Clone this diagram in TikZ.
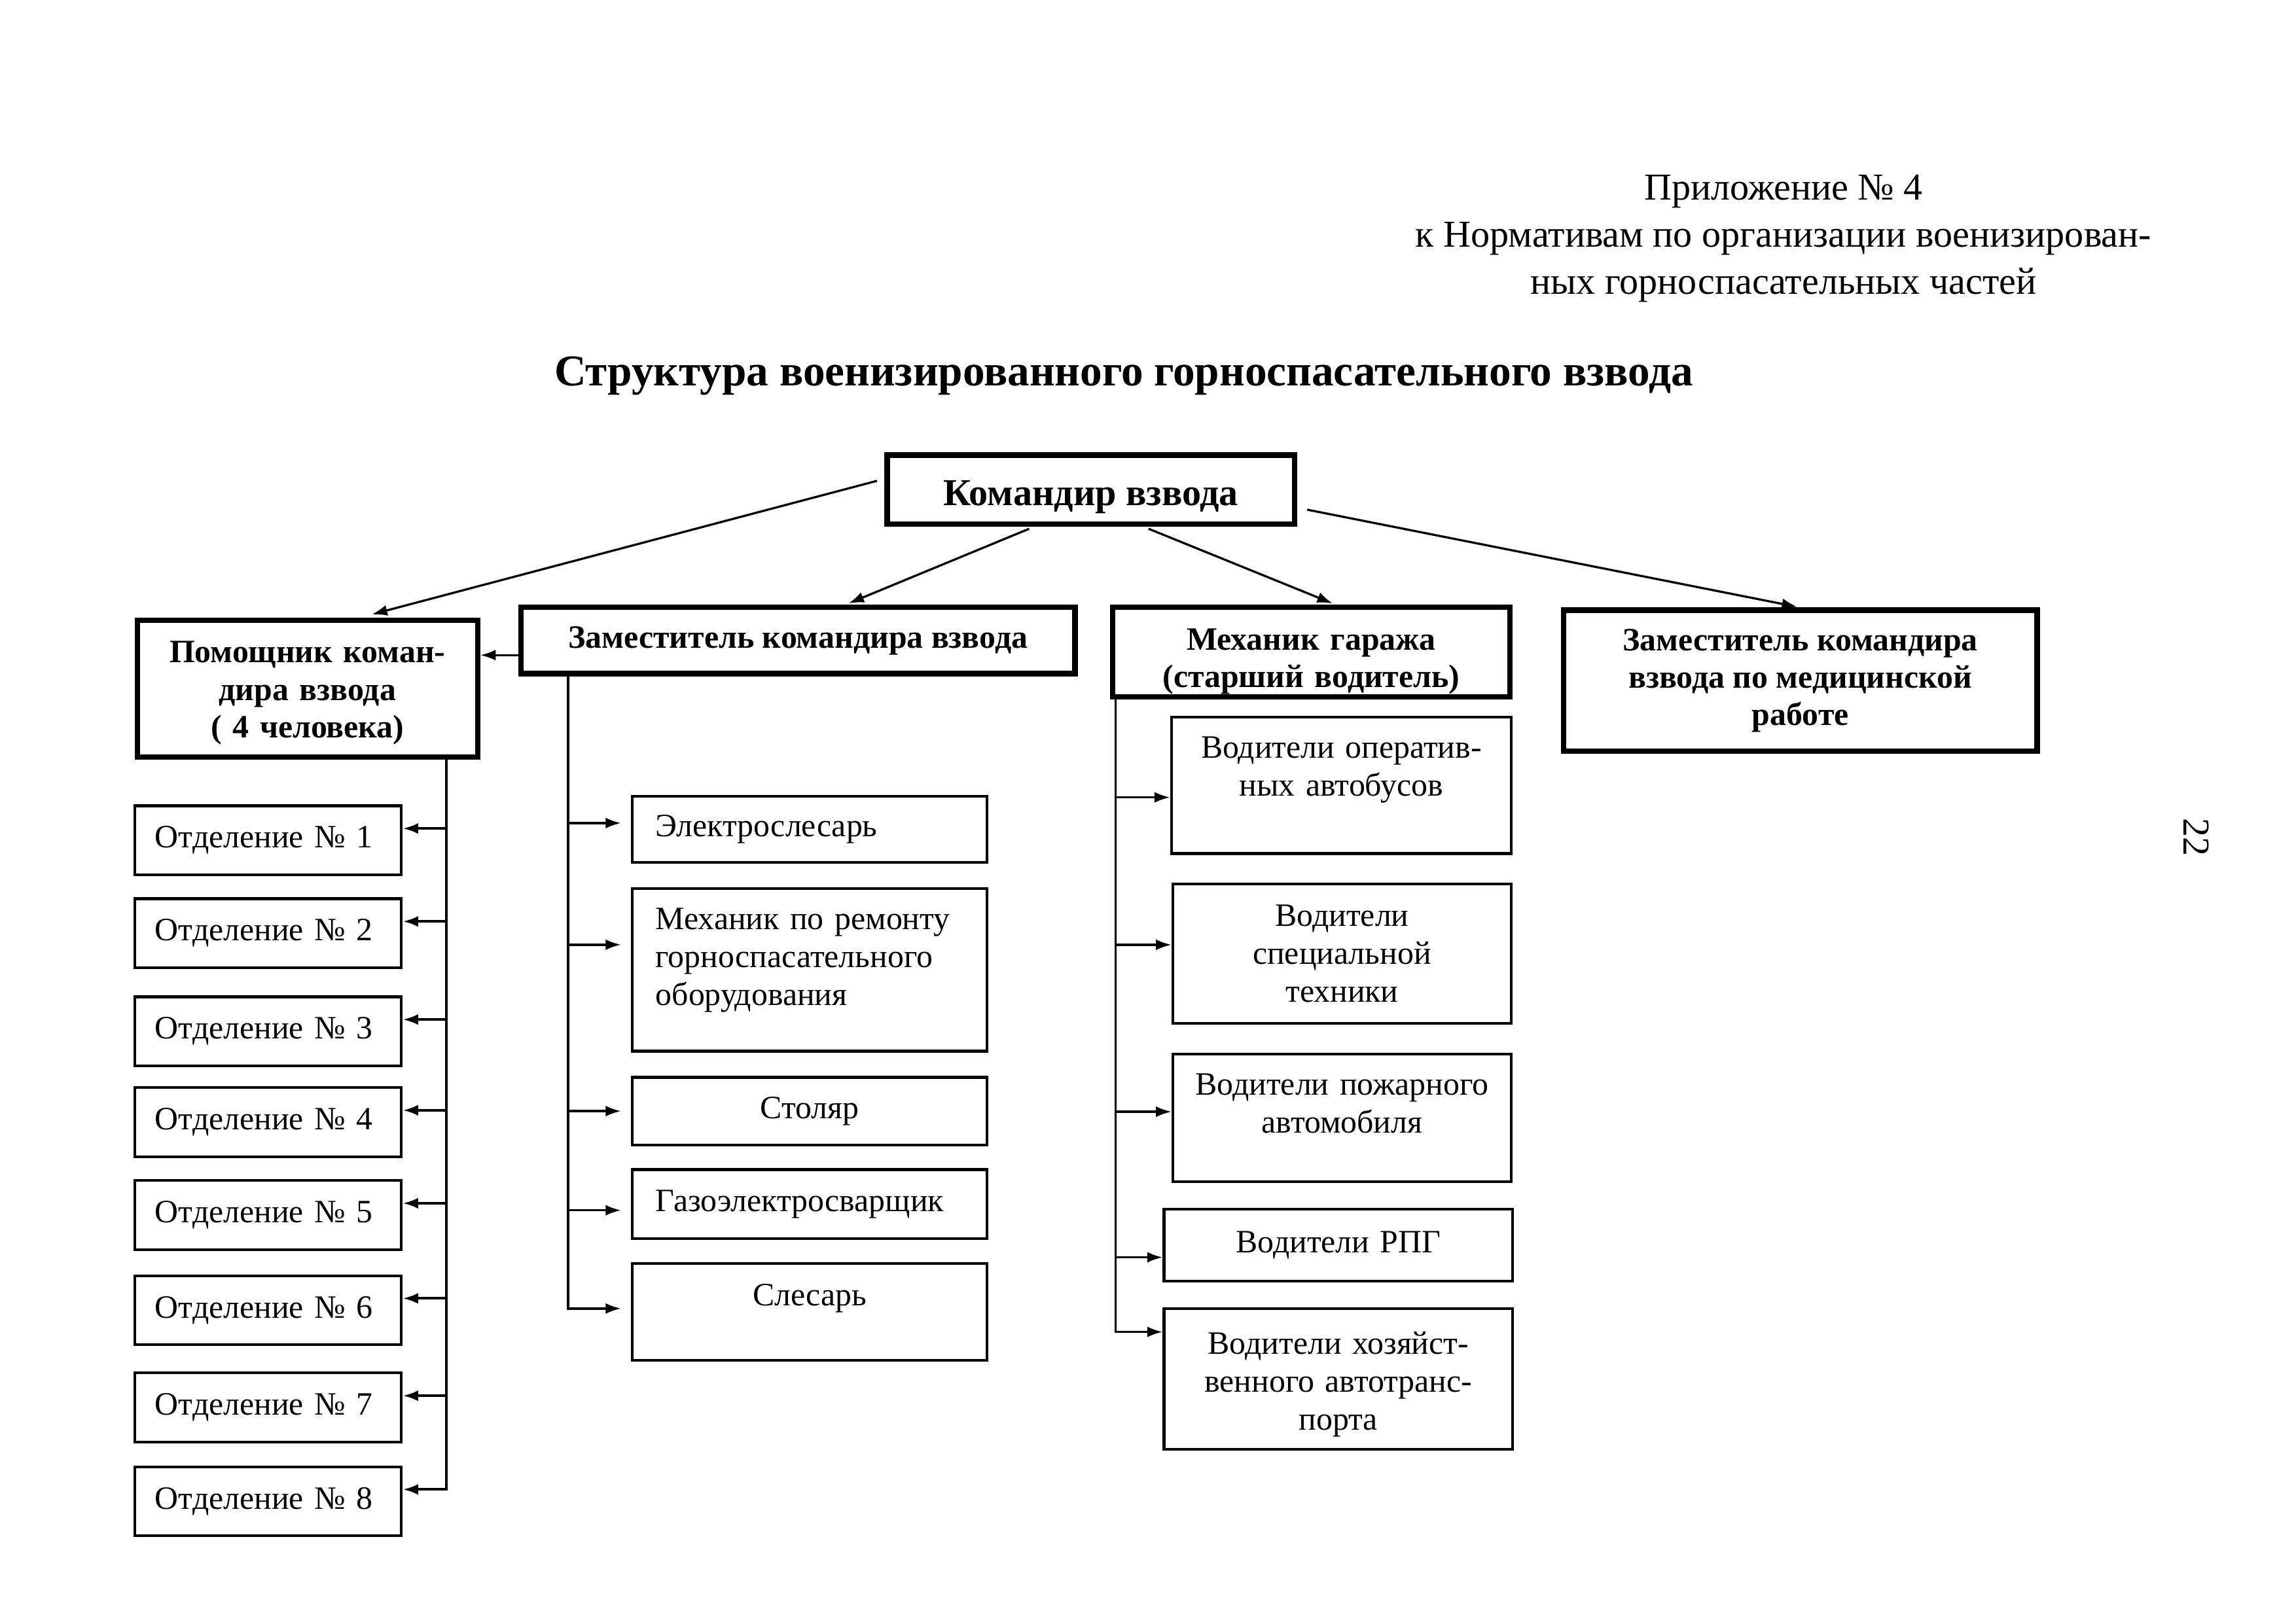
\documentclass[tikz,border=0pt]{standalone}
\usepackage{fontspec}
\setmainfont{Liberation Serif}
\usetikzlibrary{arrows.meta}

\begin{document}
\begin{tikzpicture}[x=0.18941mm, y=-0.18941mm,
  headbox/.style={draw, line width=2pt, align=center, inner sep=0pt, font=\bfseries\fontsize{12}{13.8}\selectfont},
  workbox/.style={draw, line width=1pt, inner xsep=3mm, inner ysep=0pt, font=\fontsize{12}{14}\selectfont},
  drvbox/.style={draw, line width=1pt, inner xsep=1.5mm, inner ysep=0pt, align=center, font=\fontsize{12}{14}\selectfont},
  squadbox/.style={draw, line width=1pt, inner xsep=2.65mm, inner ysep=0pt, text width=29.2mm, align=left, minimum height=8.93mm, font=\fontsize{12}{14}\selectfont},
  link/.style={-{Latex[length=2mm,width=1.4mm]}, line width=0.8pt}]
  %Page frame
  \useasboundingbox (0,0) rectangle (1568,1109);

  %Header and title
  \node[font=\fontsize{14}{17.3}\selectfont, align=center] (hdr) at (1218,163) {Приложение № 4\\к Нормативам по организации военизирован-\\ных горноспасательных частей};
  \node[font=\bfseries\fontsize{16.2}{19}\selectfont] (title) at (767.5,257) {Структура военизированного горноспасательного взвода};
  \node[font=\fontsize{14}{17}\selectfont, rotate=-90] (pnum) at (1500,572) {22};

  %Command level
  \node[headbox, font=\bfseries\fontsize{14}{16}\selectfont, minimum width=52.7mm, text height=6.53mm, text depth=2.43mm] (kom) at (745,334.5) {Командир взвода};
  \node[headbox, text width=44mm, text height=5.47mm, text depth=12.2mm] (pom) at (210,470.5) {Помощник коман-\\дира взвода\\( 4 человека)};
  \node[headbox, minimum width=71.65mm, minimum height=8.58mm] (zam) at (545,437.5) {Заместитель командира взвода};
  \node[headbox, text width=51.39mm, text height=5.5mm, text depth=6.1mm] (mech) at (895.5,445.5) {Механик гаража\\(старший водитель)};
  \node[headbox, minimum width=61.24mm, minimum height=18.24mm] (med) at (1229.5,465) {Заместитель командира\\взвода по медицинской\\работе};

  %Squads
  \node[squadbox] (o1) at (183,574) {Отделение № 1};
  \node[squadbox] (o2) at (183,637.5) {Отделение № 2};
  \node[squadbox] (o3) at (183,704.5) {Отделение № 3};
  \node[squadbox] (o4) at (183,766.5) {Отделение № 4};
  \node[squadbox] (o5) at (183,830) {Отделение № 5};
  \node[squadbox] (o6) at (183,895) {Отделение № 6};
  \node[squadbox] (o7) at (183,961.5) {Отделение № 7};
  \node[squadbox] (o8) at (183,1025.5) {Отделение № 8};

  %Workshop staff
  \node[workbox, text width=39.87mm, align=left, minimum height=8.55mm] (e1) at (553,566.5) {Электрослесарь};
  \node[workbox, text width=39.87mm, align=left, text height=5.3mm, text depth=15.75mm] (e2) at (553,662.5) {Механик по ремонту\\горноспасательного\\оборудования};
  \node[workbox, text width=39.87mm, align=center, minimum height=8.74mm] (e3) at (553,759) {Столяр};
  \node[workbox, text width=39.87mm, align=left, minimum height=8.93mm] (e4) at (553,822.5) {Газоэлектросварщик};
  \node[workbox, text width=39.87mm, align=center, text height=5.5mm, text depth=7.03mm] (e5) at (553,896) {Слесарь};

  %Drivers
  \node[drvbox, text width=40.97mm, text height=5.3mm, text depth=12.34mm] (d1) at (916,536.5) {Водители оператив-\\ных автобусов};
  \node[drvbox, text width=40.78mm, minimum height=18.02mm] (d2) at (916.5,651.5) {Водители\\специальной\\техники};
  \node[drvbox, text width=40.78mm, text height=5.3mm, text depth=11.21mm] (d3) at (916.5,763.5) {Водители пожарного\\автомобиля};
  \node[drvbox, text width=42.11mm, minimum height=9.31mm] (d4) at (914,850.5) {Водители РПГ};
  \node[drvbox, text width=42.11mm, text height=5.86mm, text depth=12.35mm] (d5) at (914,942) {Водители хозяйст-\\венного автотранс-\\порта};

  %Links from the commander
  \draw[link, shorten <=1mm, shorten >=1.7mm] (kom.177) -- (pom.54);
  \draw[link, shorten <=0.6mm, shorten >=0.4mm] (kom.213) -- (zam.37);
  \draw[link, shorten <=0.6mm, shorten >=0.4mm] (kom.-35) -- (mech.63);
  \draw[link, shorten <=1.3mm, shorten >=0.4mm] (kom.-5) -- (med.north);
  \draw[link] (zam.183) -- (zam.183 -| pom.east);

  %Bus to the squads
  \coordinate (pbus) at (305,519);
  \draw[link, line width=1pt] (pbus) |- (o1.5);
  \draw[link, line width=1pt] (pbus) |- (o2.5);
  \draw[link, line width=1pt] (pbus) |- (o3.5);
  \draw[link, line width=1pt] (pbus) |- (o4.5);
  \draw[link, line width=1pt] (pbus) |- (o5.5);
  \draw[link, line width=1pt] (pbus) |- (o6.5);
  \draw[link, line width=1pt] (pbus) |- (o7.5);
  \draw[link, line width=1pt] (pbus) |- (o8.5);

  %Bus to the workshop staff
  \coordinate (zbus) at (388,462);
  \draw[link, shorten >=1.3mm] (zbus) |- (e1.178);
  \draw[link, shorten >=1.3mm] (zbus) |- (e2.172);
  \draw[link, shorten >=1.3mm] (zbus) |- (e3.180);
  \draw[link, shorten >=1.3mm] (zbus) |- (e4.182);
  \draw[link, shorten >=1.3mm] (zbus) |- (e5.179);

  %Bus to the drivers
  \coordinate (mbus) at (762,478);
  \draw[link] (mbus) |- (d1.184);
  \draw[link] (mbus) |- (d2.177);
  \draw[link] (mbus) |- (d3.178);
  \draw[link] (mbus) |- (d4.184);
  \draw[link] (mbus) |- (d5.165);
\end{tikzpicture}
\end{document}
